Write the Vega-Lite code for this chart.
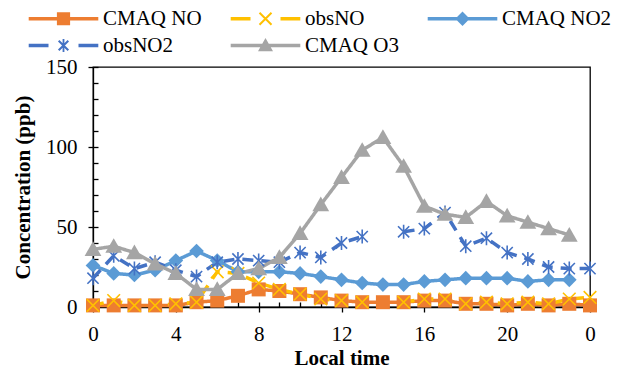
{
  "$schema": "https://vega.github.io/schema/vega-lite/v6.json",
  "width": 497,
  "height": 240,
  "autosize": {"type": "none"},
  "padding": {"left": 93, "top": 67, "right": 28, "bottom": 62},
  "background": "white",
  "config": {
    "view": {"stroke": "black", "strokeWidth": 1.3},
    "font": "Liberation Serif",
    "axis": {
      "labelFont": "Liberation Serif", "labelFontSize": 21, "labelColor": "black",
      "titleFont": "Liberation Serif", "titleFontSize": 21, "titleFontWeight": "bold", "titleColor": "black",
      "domainColor": "black", "domainWidth": 1.3, "tickColor": "black", "tickWidth": 1.3, "grid": false
    },
    "legend": {
      "padding": 0, "symbolSize": 144, "symbolStrokeWidth": 0, "symbolOpacity": 1, "symbolOffset": 25, "labelOffset": 29,
      "labelFont": "Liberation Serif", "labelFontSize": 21, "labelColor": "black",
      "columnPadding": 28, "rowPadding": 5, "labelLimit": 300
    }
  },
  "data": {"values": [
    {"hour": 0, "CMAQ NO": 1, "obsNO": 1, "CMAQ NO2": 26, "obsNO2": 18, "CMAQ O3": 36},
    {"hour": 1, "CMAQ NO": 1, "obsNO": 4, "CMAQ NO2": 21, "obsNO2": 32, "CMAQ O3": 38},
    {"hour": 2, "CMAQ NO": 1, "obsNO": 1, "CMAQ NO2": 20, "obsNO2": 24, "CMAQ O3": 34},
    {"hour": 3, "CMAQ NO": 1, "obsNO": 1, "CMAQ NO2": 23, "obsNO2": 28, "CMAQ O3": 27},
    {"hour": 4, "CMAQ NO": 1, "obsNO": 2, "CMAQ NO2": 29, "obsNO2": 23, "CMAQ O3": 21},
    {"hour": 5, "CMAQ NO": 3, "obsNO": 3, "CMAQ NO2": 35, "obsNO2": 19, "CMAQ O3": 11},
    {"hour": 6, "CMAQ NO": 4, "obsNO": 22, "CMAQ NO2": 29, "obsNO2": 28, "CMAQ O3": 11},
    {"hour": 7, "CMAQ NO": 7, "obsNO": 21, "CMAQ NO2": 22, "obsNO2": 30, "CMAQ O3": 21},
    {"hour": 8, "CMAQ NO": 11, "obsNO": 15, "CMAQ NO2": 22, "obsNO2": 29, "CMAQ O3": 24},
    {"hour": 9, "CMAQ NO": 10, "obsNO": 11, "CMAQ NO2": 22, "obsNO2": 28, "CMAQ O3": 31},
    {"hour": 10, "CMAQ NO": 8, "obsNO": 8, "CMAQ NO2": 21, "obsNO2": 34, "CMAQ O3": 46},
    {"hour": 11, "CMAQ NO": 6, "obsNO": 5, "CMAQ NO2": 19, "obsNO2": 31, "CMAQ O3": 64},
    {"hour": 12, "CMAQ NO": 4, "obsNO": 4, "CMAQ NO2": 17, "obsNO2": 40, "CMAQ O3": 81},
    {"hour": 13, "CMAQ NO": 3, "obsNO": 3, "CMAQ NO2": 15, "obsNO2": 44, "CMAQ O3": 98},
    {"hour": 14, "CMAQ NO": 3, "obsNO": null, "CMAQ NO2": 14, "obsNO2": null, "CMAQ O3": 106},
    {"hour": 15, "CMAQ NO": 3, "obsNO": 3, "CMAQ NO2": 14, "obsNO2": 47, "CMAQ O3": 88},
    {"hour": 16, "CMAQ NO": 4, "obsNO": 5, "CMAQ NO2": 16, "obsNO2": 49, "CMAQ O3": 63},
    {"hour": 17, "CMAQ NO": 4, "obsNO": 5, "CMAQ NO2": 17, "obsNO2": 59, "CMAQ O3": 58},
    {"hour": 18, "CMAQ NO": 2, "obsNO": 2, "CMAQ NO2": 18, "obsNO2": 38, "CMAQ O3": 56},
    {"hour": 19, "CMAQ NO": 2, "obsNO": 3, "CMAQ NO2": 18, "obsNO2": 43, "CMAQ O3": 66},
    {"hour": 20, "CMAQ NO": 1, "obsNO": 2, "CMAQ NO2": 18, "obsNO2": 34, "CMAQ O3": 57},
    {"hour": 21, "CMAQ NO": 2, "obsNO": 3, "CMAQ NO2": 16, "obsNO2": 30, "CMAQ O3": 53},
    {"hour": 22, "CMAQ NO": 1, "obsNO": 2, "CMAQ NO2": 17, "obsNO2": 25, "CMAQ O3": 49},
    {"hour": 23, "CMAQ NO": 2, "obsNO": 5, "CMAQ NO2": 17, "obsNO2": 24, "CMAQ O3": 45},
    {"hour": 24, "CMAQ NO": 1, "obsNO": 6, "CMAQ NO2": null, "obsNO2": 24, "CMAQ O3": null}
  ]},
  "transform": [
    {"fold": ["CMAQ NO", "obsNO", "CMAQ NO2", "obsNO2", "CMAQ O3"], "as": ["series", "value"]}
  ],
  "layer": [
    {
      "mark": {"type": "point", "filled": true, "opacity": 0},
      "encoding": {
        "x": {"field": "hour", "type": "quantitative", "scale": {"domain": [0, 24], "nice": false},
          "axis": {"orient": "bottom", "values": [0,1,2,3,4,5,6,7,8,9,10,11,12,13,14,15,16,17,18,19,20,21,22,23,24], "tickSize": -5, "labels": false, "domain": false, "title": null}},
        "y": {"field": "value", "type": "quantitative", "scale": {"domain": [0, 150], "nice": false},
          "axis": {"orient": "left", "values": [0,10,20,30,40,50,60,70,80,90,100,110,120,130,140,150], "tickSize": -5, "labels": false, "domain": false, "title": null}},
        "color": {"field": "series", "type": "nominal",
          "scale": {"domain": ["CMAQ NO", "obsNO", "CMAQ NO2", "obsNO2", "CMAQ O3"], "range": ["#ED7D31", "#FFC000", "#5B9BD5", "#4472C4", "#A5A5A5"]},
          "legend": {"title": null, "orient": "none", "legendX": -65, "legendY": -59, "direction": "horizontal", "columns": 3}},
        "shape": {"field": "series", "type": "nominal",
          "scale": {"domain": ["CMAQ NO", "obsNO", "CMAQ NO2", "obsNO2", "CMAQ O3"],
            "range": [
              "M-5.8,-0.28H5.8V0.28H-5.8Z M-1.1,-1.1H1.1V1.1H-1.1Z",
              "M-5.8,-0.28H-2.5V0.28H-5.8Z M2.5,-0.28H5.8V0.28H2.5Z M-0.882,-1.118L1.118,0.882L0.882,1.118L-1.118,-0.882Z M-0.882,1.118L-1.118,0.882L0.882,-1.118L1.118,-0.882Z",
              "M-5.8,-0.28H5.8V0.28H-5.8Z M0,-1.2L1.2,0L0,1.2L-1.2,0Z",
              "M-5.8,-0.28H-2.5V0.28H-5.8Z M2.5,-0.28H5.8V0.28H2.5Z M-0.15,-1.1H0.15V1.1H-0.15Z M-0.682,-0.918L0.918,0.682L0.682,0.918L-0.918,-0.682Z M-0.682,0.918L-0.918,0.682L0.682,-0.918L0.918,-0.682Z",
              "M-5.8,-0.28H5.8V0.28H-5.8Z M0,-1.25L1.25,0.95H-1.25Z"
            ]},
          "legend": {"title": null, "orient": "none", "legendX": -65, "legendY": -59, "direction": "horizontal", "columns": 3}}
      }
    },
    {
      "mark": {"type": "line", "strokeWidth": 3.5, "invalid": "break-paths-show-domains"},
      "encoding": {
        "x": {"field": "hour", "type": "quantitative",
          "axis": {"orient": "bottom", "values": [0, 4, 8, 12, 16, 20, 24], "labelExpr": "datum.value === 24 ? '0' : datum.label",
            "tickSize": 5, "labelPadding": 11, "title": "Local time", "titlePadding": 3, "labelFlush": false, "labelOverlap": false}},
        "y": {"field": "value", "type": "quantitative",
          "axis": {"orient": "left", "values": [0, 50, 100, 150], "tickSize": 5, "labelPadding": 11, "title": "Concentration (ppb)", "titlePadding": 12}},
        "color": {"field": "series", "type": "nominal"},
        "strokeDash": {"field": "series", "type": "nominal",
          "scale": {"domain": ["CMAQ NO", "obsNO", "CMAQ NO2", "obsNO2", "CMAQ O3"], "range": [[1, 0], [11, 8], [1, 0], [11, 8], [1, 0]]},
          "legend": null}
      }
    },
    {
      "transform": [{"filter": {"field": "series", "equal": "CMAQ NO"}}],
      "mark": {"type": "point", "filled": true, "opacity": 1, "size": 196, "shape": "M-1,-1H1V1H-1Z", "color": "#ED7D31"},
      "encoding": {
        "x": {"field": "hour", "type": "quantitative", "axis": null},
        "y": {"field": "value", "type": "quantitative", "axis": null}
      }
    },
    {
      "transform": [{"filter": {"field": "series", "equal": "obsNO"}}],
      "mark": {"type": "point", "filled": false, "opacity": 1, "size": 196, "strokeWidth": 1.6, "shape": "M-0.9,-0.9L0.9,0.9M-0.9,0.9L0.9,-0.9", "color": "#FFC000"},
      "encoding": {
        "x": {"field": "hour", "type": "quantitative", "axis": null},
        "y": {"field": "value", "type": "quantitative", "axis": null}
      }
    },
    {
      "transform": [{"filter": {"field": "series", "equal": "CMAQ NO2"}}],
      "mark": {"type": "point", "filled": true, "opacity": 1, "size": 196, "shape": "M0,-1.05L1.05,0L0,1.05L-1.05,0Z", "color": "#5B9BD5"},
      "encoding": {
        "x": {"field": "hour", "type": "quantitative", "axis": null},
        "y": {"field": "value", "type": "quantitative", "axis": null}
      }
    },
    {
      "transform": [{"filter": {"field": "series", "equal": "obsNO2"}}],
      "mark": {"type": "point", "filled": false, "opacity": 1, "size": 196, "strokeWidth": 1.6, "shape": "M0,-1V1M-0.8,-0.8L0.8,0.8M-0.8,0.8L0.8,-0.8", "color": "#4472C4"},
      "encoding": {
        "x": {"field": "hour", "type": "quantitative", "axis": null},
        "y": {"field": "value", "type": "quantitative", "axis": null}
      }
    },
    {
      "transform": [{"filter": {"field": "series", "equal": "CMAQ O3"}}],
      "mark": {"type": "point", "filled": true, "opacity": 1, "size": 196, "shape": "M0,-1.15L1.2,0.95H-1.2Z", "color": "#A5A5A5"},
      "encoding": {
        "x": {"field": "hour", "type": "quantitative", "axis": null},
        "y": {"field": "value", "type": "quantitative", "axis": null}
      }
    }
  ],
  "resolve": {"axis": {"x": "independent", "y": "independent"}}
}
